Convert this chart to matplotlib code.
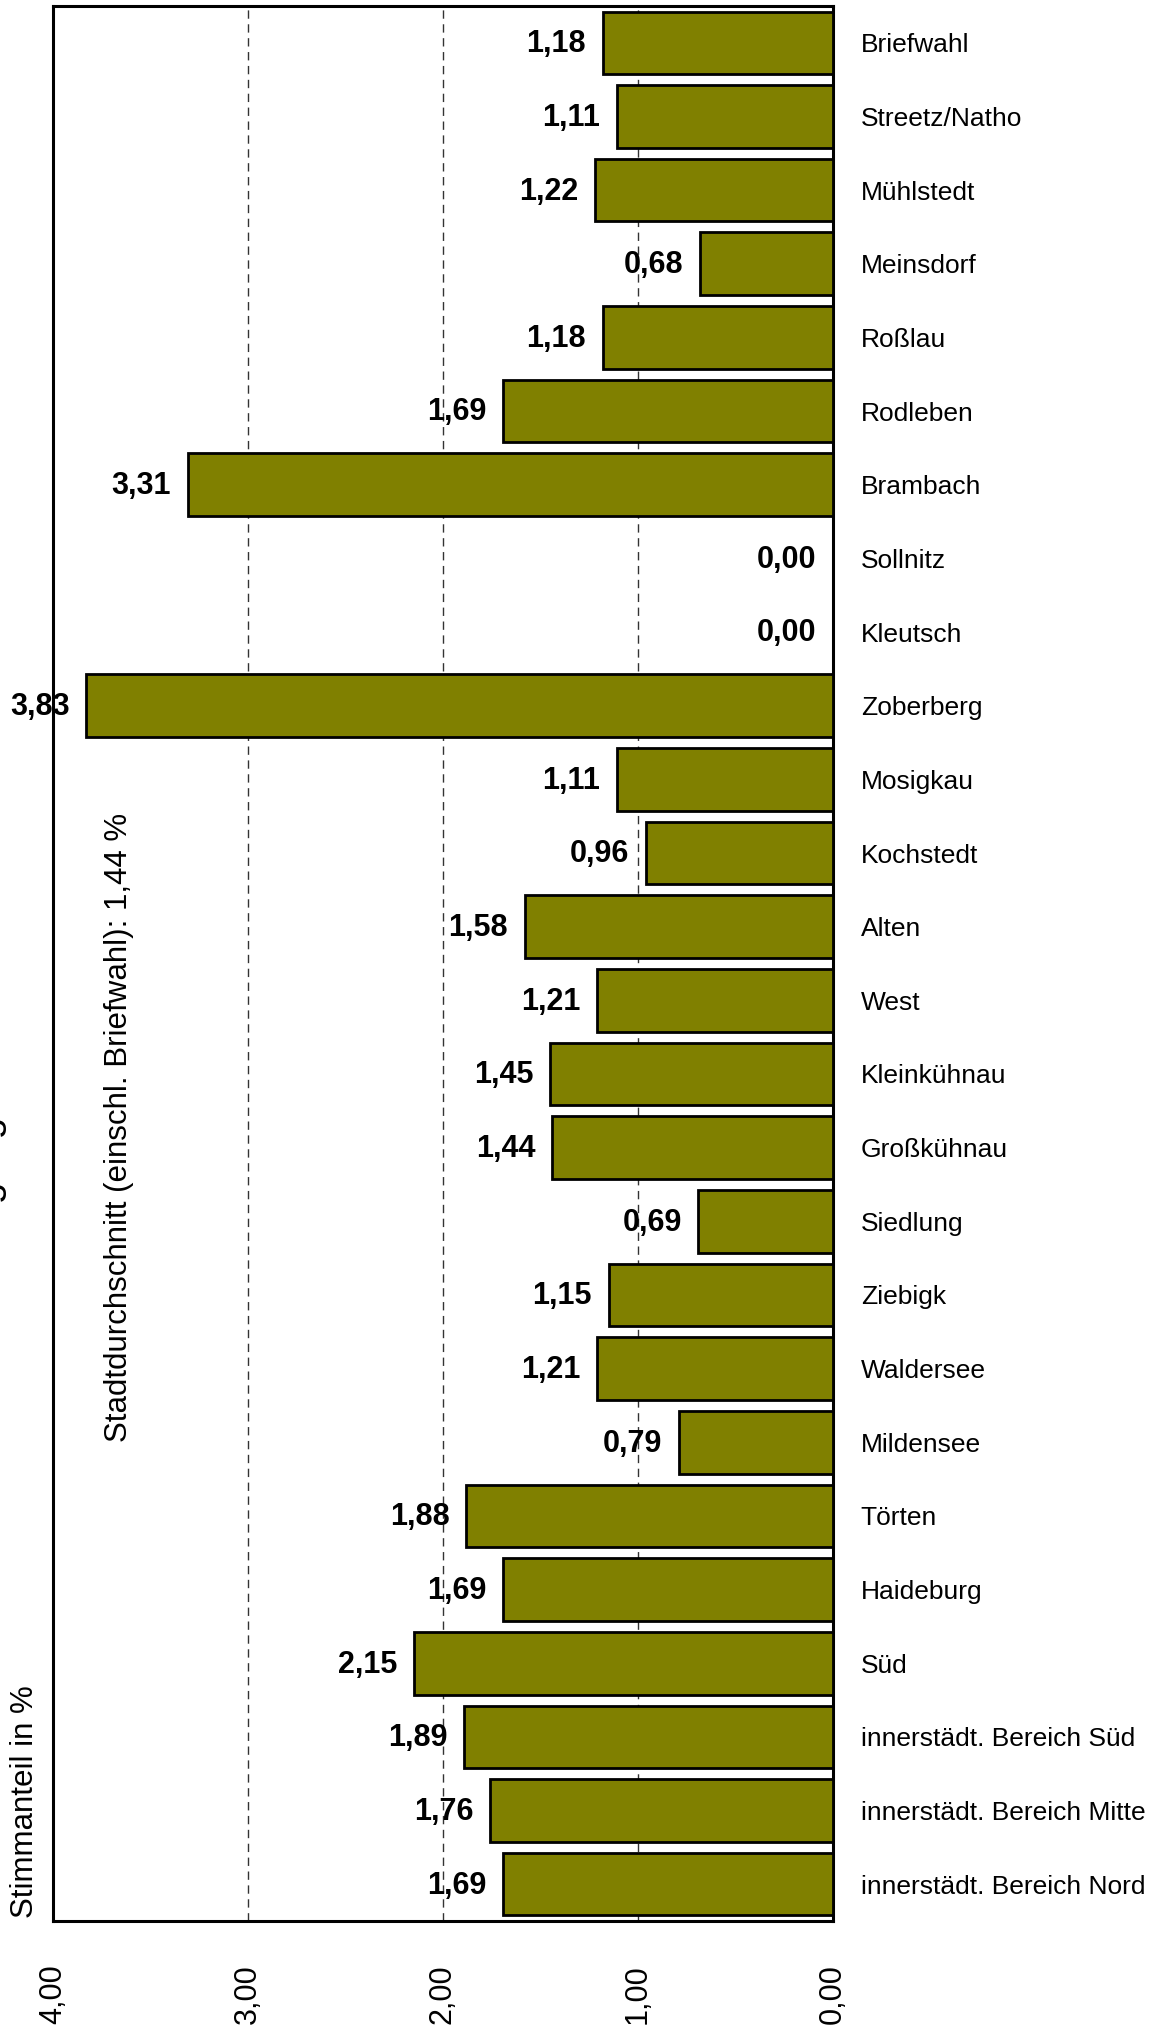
import matplotlib
matplotlib.use("Agg")
import matplotlib.pyplot as plt

plt.rcParams['font.family'] = ['Liberation Sans', 'DejaVu Sans']

# Stimmanteil je Ortschaft / Stadtbezirk (%)
bezirke = ["Briefwahl", "Streetz/Natho", "Mühlstedt", "Meinsdorf", "Roßlau",
           "Rodleben", "Brambach", "Sollnitz", "Kleutsch", "Zoberberg",
           "Mosigkau", "Kochstedt", "Alten", "West", "Kleinkühnau",
           "Großkühnau", "Siedlung", "Ziebigk", "Waldersee", "Mildensee",
           "Törten", "Haideburg", "Süd", "innerstädt. Bereich Süd",
           "innerstädt. Bereich Mitte", "innerstädt. Bereich Nord"]
anteil = [1.18, 1.11, 1.22, 0.68, 1.18,
          1.69, 3.31, 0.00, 0.00, 3.83,
          1.11, 0.96, 1.58, 1.21, 1.45,
          1.44, 0.69, 1.15, 1.21, 0.79,
          1.88, 1.69, 2.15, 1.89,
          1.76, 1.69]
x_ticks = [4, 3, 2, 1, 0]
x_ticklabels = ["4,00", "3,00", "2,00", "1,00", "0,00"]
stadtdurchschnitt = "1,44"

fig = plt.figure(figsize=(11.6, 20.29), dpi=100)
ax = fig.add_axes([53 / 1160, 1 - 1921 / 2029, 780 / 1160, 1915 / 2029])

ypos = list(range(len(bezirke)))
ax.barh(ypos, anteil, height=0.85, color="#808000", edgecolor="black",
        linewidth=2, zorder=3)

ax.set_xlim(4, 0)
ax.set_ylim(len(bezirke) - 0.5, -0.5)

# gestrichelte Gitterlinien
for g in [1, 2, 3]:
    ax.axvline(g, color="#333333", linewidth=1, linestyle=(0, (6, 4)), zorder=1)

# Werte an den Balken
for y, v in zip(ypos, anteil):
    ax.annotate(f"{v:.2f}".replace(".", ","), xy=(v, y), xytext=(-12, -1),
                textcoords="offset points", ha="right", va="center",
                fontsize=22, fontweight="bold", zorder=4)

ax.yaxis.tick_right()
ax.set_yticks(ypos)
ax.set_yticklabels(bezirke, fontsize=19)
ax.tick_params(axis="y", length=0, pad=20)

ax.set_xticks(x_ticks)
ax.set_xticklabels(x_ticklabels, rotation=90, fontsize=22)
ax.tick_params(axis="x", length=0, pad=31)

for s in ax.spines.values():
    s.set_linewidth(2.2)

ax.text(0.085, 0.4146, "Stadtdurchschnitt (einschl. Briefwahl): " + stadtdurchschnitt + " %",
        transform=ax.transAxes, rotation=90, ha="center", va="center", fontsize=22.5)

fig.text(33 / 1160, 1 - 1918 / 2029, "Stimmanteil in %", rotation=90,
         rotation_mode="anchor", ha="left", va="baseline", fontsize=22.5)

# abgeschnittener Titel am linken Rand
fig.text(-1 / 1160, 1 - 1253 / 2029, "Wahlbeteiligung", rotation=90,
         rotation_mode="anchor", ha="center", va="baseline", fontsize=28)

fig.savefig("out.png", dpi=100)
